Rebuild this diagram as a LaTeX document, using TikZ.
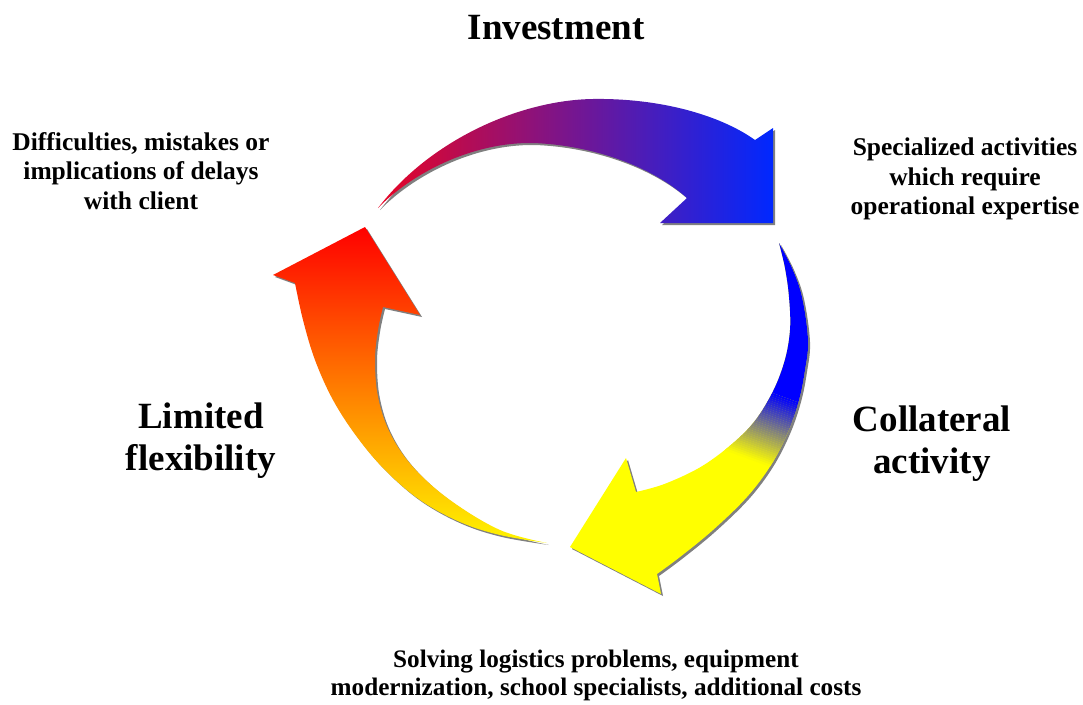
\documentclass[tikz,border=0pt]{standalone}
\usepackage{fontspec}
\setmainfont{Liberation Serif}
\begin{document}
\begin{tikzpicture}[x=1pt,y=-1pt]
\definecolor{arcred}{RGB}{232,4,36}
\definecolor{arcblue}{RGB}{0,40,255}
\definecolor{pureblue}{RGB}{0,0,255}
\definecolor{pureyellow}{RGB}{255,255,0}
\definecolor{headred}{RGB}{255,0,0}
\definecolor{tailyellow}{RGB}{255,245,0}
\definecolor{shadowgray}{RGB}{128,128,128}
\tikzset{
  biglabel/.style={font=\fontsize{37}{42}\selectfont\bfseries, align=center, inner sep=0pt},
  smalllabel/.style={font=\fontsize{25.5}{29.5}\selectfont\bfseries, align=center, inner sep=0pt},
  arrowshadow/.style={fill=shadowgray, shift={(2,2)}},
}
\useasboundingbox (0,0) rectangle (1083,704);

% outlines of the three curved arrows
\def\TopArrowPath{(378,208) .. controls (430,140) and (520,100) .. (593,99) .. controls (660,98) and (720,115) .. (755,140) -- (773,128) -- (773,223) -- (660,223) -- (687,198) .. controls (650,165) and (590,145) .. (533,143) .. controls (470,142) and (410,175) .. (378,208) -- cycle}
\def\RightArrowPath{plot[smooth,tension=0.6] coordinates {(779,243) (792,268) (802,297) (808,340) (805,370) (799,400) (788,432) (771,465) (747,497) (713,530) (680,557) (657,574)} -- (661,594) -- (570,547) -- (626,458) -- (636,492) -- plot[smooth,tension=0.6] coordinates {(636,492) (667,483) (707,463) (747,430) (770,397) (784,363) (790,330) (789,297) (785,268) (779,243)} -- cycle}
\def\LeftArrowPath{plot[smooth,tension=0.6] coordinates {(547,543) (500,535) (460,522) (420,500) (385,470) (357,437) (333,400) (315,360) (303,320) (295,283)} -- (273,275) -- (365,227) -- (420,315) -- (383,307) -- plot[smooth,tension=0.6] coordinates {(383,307) (378,330) (375,360) (378,397) (390,433) (413,467) (450,500) (500,530) (547,543)} -- cycle}

% drop shadows
\path[arrowshadow] \TopArrowPath;
\path[arrowshadow] \RightArrowPath;
\path[arrowshadow] \LeftArrowPath;

% top arrow: red to blue
\shade[left color=arcred, right color=arcblue] \TopArrowPath;

% left arrow: yellow tail to red head
\shade[top color=headred, bottom color=tailyellow] \LeftArrowPath;

% right arrow: blue tail blending into a yellow head
\begin{scope}
  \clip \RightArrowPath;
  \fill[pureyellow] (540,230) rectangle (830,610);
  \begin{scope}[shift={(772,430)}, rotate=-20]
    \fill[pureblue] (-200,-300) rectangle (200,-35);
    \foreach \i in {0,...,34}{
      \pgfmathsetmacro\mixp{(\i+0.5)/35*100}
      \fill[pureyellow!\mixp!pureblue] (-200,-35+2*\i) rectangle (200,-32.8+2*\i);
    }
  \end{scope}
\end{scope}

% labels
\node[biglabel, anchor=base] (invest) at (556,39) {Investment};
\node[biglabel, anchor=north] (collat) at (932,406) {Collateral\\activity};
\node[biglabel, anchor=north] (limit) at (201,403) {Limited\\flexibility};
\node[smalllabel, anchor=north] (diffic) at (141,132) {Difficulties, mistakes or\\implications of delays\\with client};
\node[smalllabel, anchor=north] (special) at (965,138) {Specialized activities\\which require\\operational expertise};
\node[smalllabel, anchor=north, font=\fontsize{25.2}{28}\selectfont\bfseries] (solving) at (596,650) {Solving logistics problems, equipment\\modernization, school specialists, additional costs};
\end{tikzpicture}
\end{document}
